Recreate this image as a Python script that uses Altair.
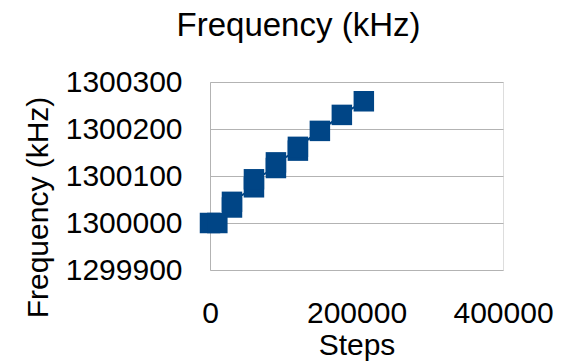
import altair as alt
import pandas as pd

steps = [0, 10000, 30000, 30000, 60000, 60000, 90000, 90000, 120000, 120000, 150000, 180000, 210000]
freq = [1300000, 1300000, 1300033, 1300045, 1300076, 1300093, 1300117, 1300129,
        1300154, 1300162, 1300196, 1300230, 1300259]
x_ticks = [0, 200000, 400000]
y_ticks = [1299900, 1300000, 1300100, 1300200, 1300300]

df = pd.DataFrame({"Steps": steps, "Freq": freq, "idx": list(range(len(steps)))})

FONT = "Liberation Sans"
BLUE = "#004586"
GRID = "#b3b3b3"

x = alt.X("Steps:Q",
          scale=alt.Scale(domain=[0, 400000], nice=False, zero=False),
          axis=alt.Axis(values=x_ticks, title="Steps", grid=False, domain=False, ticks=False,
                        labelPadding=28, labelFontSize=30, labelFont=FONT, labelColor="black",
                        titleFontSize=30, titleFont=FONT, titleFontWeight="normal",
                        titleColor="black", titlePadding=2, format="d",
                        labelFlush=False, labelOverlap=False))
y = alt.Y("Freq:Q",
          scale=alt.Scale(domain=[1299900, 1300300], nice=False, zero=False),
          axis=alt.Axis(values=y_ticks, title="Frequency (kHz)", grid=True, gridColor=GRID,
                        domain=True, domainColor=GRID, ticks=False,
                        labelPadding=28, labelFontSize=30, labelFont=FONT, labelColor="black",
                        titleFontSize=30, titleFont=FONT, titleFontWeight="normal",
                        titleColor="black", format="d", labelOverlap=False,
                        titleX=-172, titleY=125, titleAlign="center", titleBaseline="middle",
                        titleAngle=270))

line = alt.Chart(df).mark_line(color=BLUE, strokeWidth=2).encode(x=x, y=y, order="idx:Q")
pts = alt.Chart(df).mark_point(shape="square", filled=True, size=420, color=BLUE, opacity=1).encode(x=x, y=y)

chart = (line + pts).properties(
    width=293, height=188,
    title=alt.TitleParams("Frequency (kHz)", font=FONT, fontSize=33, fontWeight="normal",
                          color="black", anchor="middle", frame="group", dx=-58, offset=24),
    autosize=alt.AutoSizeParams(type="none"),
    padding={"left": 210, "top": 82, "right": 71, "bottom": 92},
).configure_view(stroke=None).configure(background="white")

chart.save("out.html", embed_options={"renderer": "svg", "actions": False})
